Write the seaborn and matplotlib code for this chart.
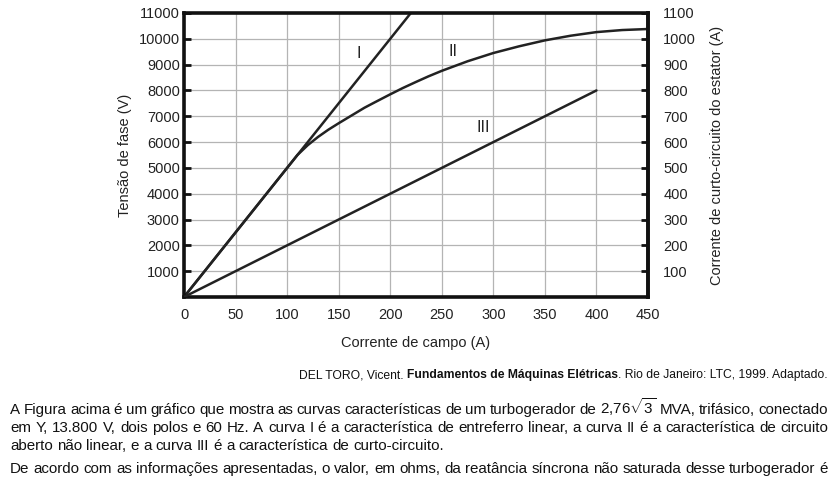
import matplotlib
matplotlib.use("Agg")
import matplotlib.pyplot as plt
import seaborn as sns

# curva I - característica de entreferro linear (V)
campo_I = [0, 220]
tensao_I = [0, 11000]

# curva II - característica de circuito aberto (V)
campo_II = [0, 50, 100, 110, 120, 130, 140, 150, 160, 175, 185, 200, 212, 225, 237, 250,
            275, 300, 325, 350, 375, 400, 425, 450]
tensao_II = [0, 2500, 5000, 5500, 5880, 6200, 6480, 6730, 6970, 7330, 7540, 7850, 8090, 8330, 8545, 8760,
             9130, 9450, 9710, 9940, 10120, 10260, 10340, 10380]

# curva III - característica de curto-circuito (A)
campo_III = [0, 400]
corrente_III = [0, 800]

x_ticks = list(range(0, 451, 50))
y_ticks = list(range(1000, 11001, 1000))
y2_ticks = list(range(100, 1101, 100))

rotulos = ["I", "II", "III"]
rotulos_x = [169, 261, 290]
rotulos_y = [9450, 9520, 6550]

sns.set_style("white")
plt.rcParams["font.family"] = ["Liberation Sans", "DejaVu Sans"]
plt.rcParams["mathtext.fontset"] = "custom"
plt.rcParams["mathtext.rm"] = "Liberation Sans"

W, H = 838, 482
fig = plt.figure(figsize=(W / 100, H / 100), dpi=100)
ax = fig.add_axes([184 / W, 1 - 297 / H, (648 - 184) / W, (297 - 13) / H])
ax2 = ax.twinx()

cor = "#222222"
sns.lineplot(x=campo_I, y=tensao_I, ax=ax, color=cor, linewidth=1.8)
sns.lineplot(x=campo_II, y=tensao_II, ax=ax, color=cor, linewidth=1.8)
sns.lineplot(x=campo_III, y=corrente_III, ax=ax2, color=cor, linewidth=1.8)

for r, xr, yr in zip(rotulos, rotulos_x, rotulos_y):
    ax.text(xr, yr, r, fontsize=11.5, ha="center", va="center", color=cor)

ax.set_xlim(0, 450)
ax.set_ylim(0, 11000)
ax2.set_ylim(0, 1100)
ax.set_xticks(x_ticks)
ax.set_yticks(y_ticks)
ax2.set_yticks(y2_ticks)
ax.grid(True, color="#b4b4b4", linewidth=0.9)
ax.set_axisbelow(True)

for s in ax.spines.values():
    s.set_linewidth(2.6)
    s.set_color("#111111")
for k, s in ax2.spines.items():
    s.set_visible(k == "right")
    s.set_linewidth(2.6)
    s.set_color("#111111")

for a in (ax, ax2):
    a.tick_params(direction="in", length=5, width=2, labelsize=10.5, colors="#111111")
    a.tick_params(axis="both", labelcolor="#222222")
ax.tick_params(axis="x", pad=8)
ax.tick_params(axis="y", pad=3)
ax2.tick_params(axis="y", pad=11)

ax.set_xlabel("Corrente de campo (A)", fontsize=10.5, labelpad=10, color="#222222")
ax.set_ylabel("Tensão de fase (V)", fontsize=10.5, labelpad=5, color="#222222")
ax2.set_ylabel("Corrente de curto-circuito do estator (A)", fontsize=10.5, labelpad=10, color="#222222")

fig.canvas.draw()
renderer = fig.canvas.get_renderer()


def linha(texto, yb, justificar=True, x0=10, x1=828, size=10.9):
    palavras = texto.split(" ")
    objs = [fig.text(0, 1 - yb / H, p, fontsize=size, va="baseline", color="#111111") for p in palavras]
    larguras = [o.get_window_extent(renderer).width for o in objs]
    if justificar and len(objs) > 1:
        esp = (x1 - x0 - sum(larguras)) / (len(objs) - 1)
    else:
        esp = size * 0.278 * 100 / 72
    x = x0
    for o, w in zip(objs, larguras):
        o.set_x(x / W)
        x += w + esp


# referência (direita)
partes = [("DEL TORO, Vicent. ", "normal"),
          ("Fundamentos de Máquinas Elétricas", "bold"),
          (". Rio de Janeiro: LTC, 1999. Adaptado.", "normal")]
x = 828
for txt, peso in reversed(partes):
    t = fig.text(x / W, 1 - 375 / H, txt, fontsize=8.7, weight=peso, ha="right", va="center", color="#111111")
    x -= t.get_window_extent(renderer).width

linha("A Figura acima é um gráfico que mostra as curvas características de um turbogerador de 2,76$\\sqrt{3}$ MVA, trifásico, conectado", 414)
linha("em Y, 13.800 V, dois polos e 60 Hz. A curva I é a característica de entreferro linear, a curva II é a característica de circuito", 432)
linha("aberto não linear, e a curva III é a característica de curto-circuito.", 450, justificar=False)
linha("De acordo com as informações apresentadas, o valor, em ohms, da reatância síncrona não saturada desse turbogerador é", 473)

fig.savefig("out.png", dpi=100)
